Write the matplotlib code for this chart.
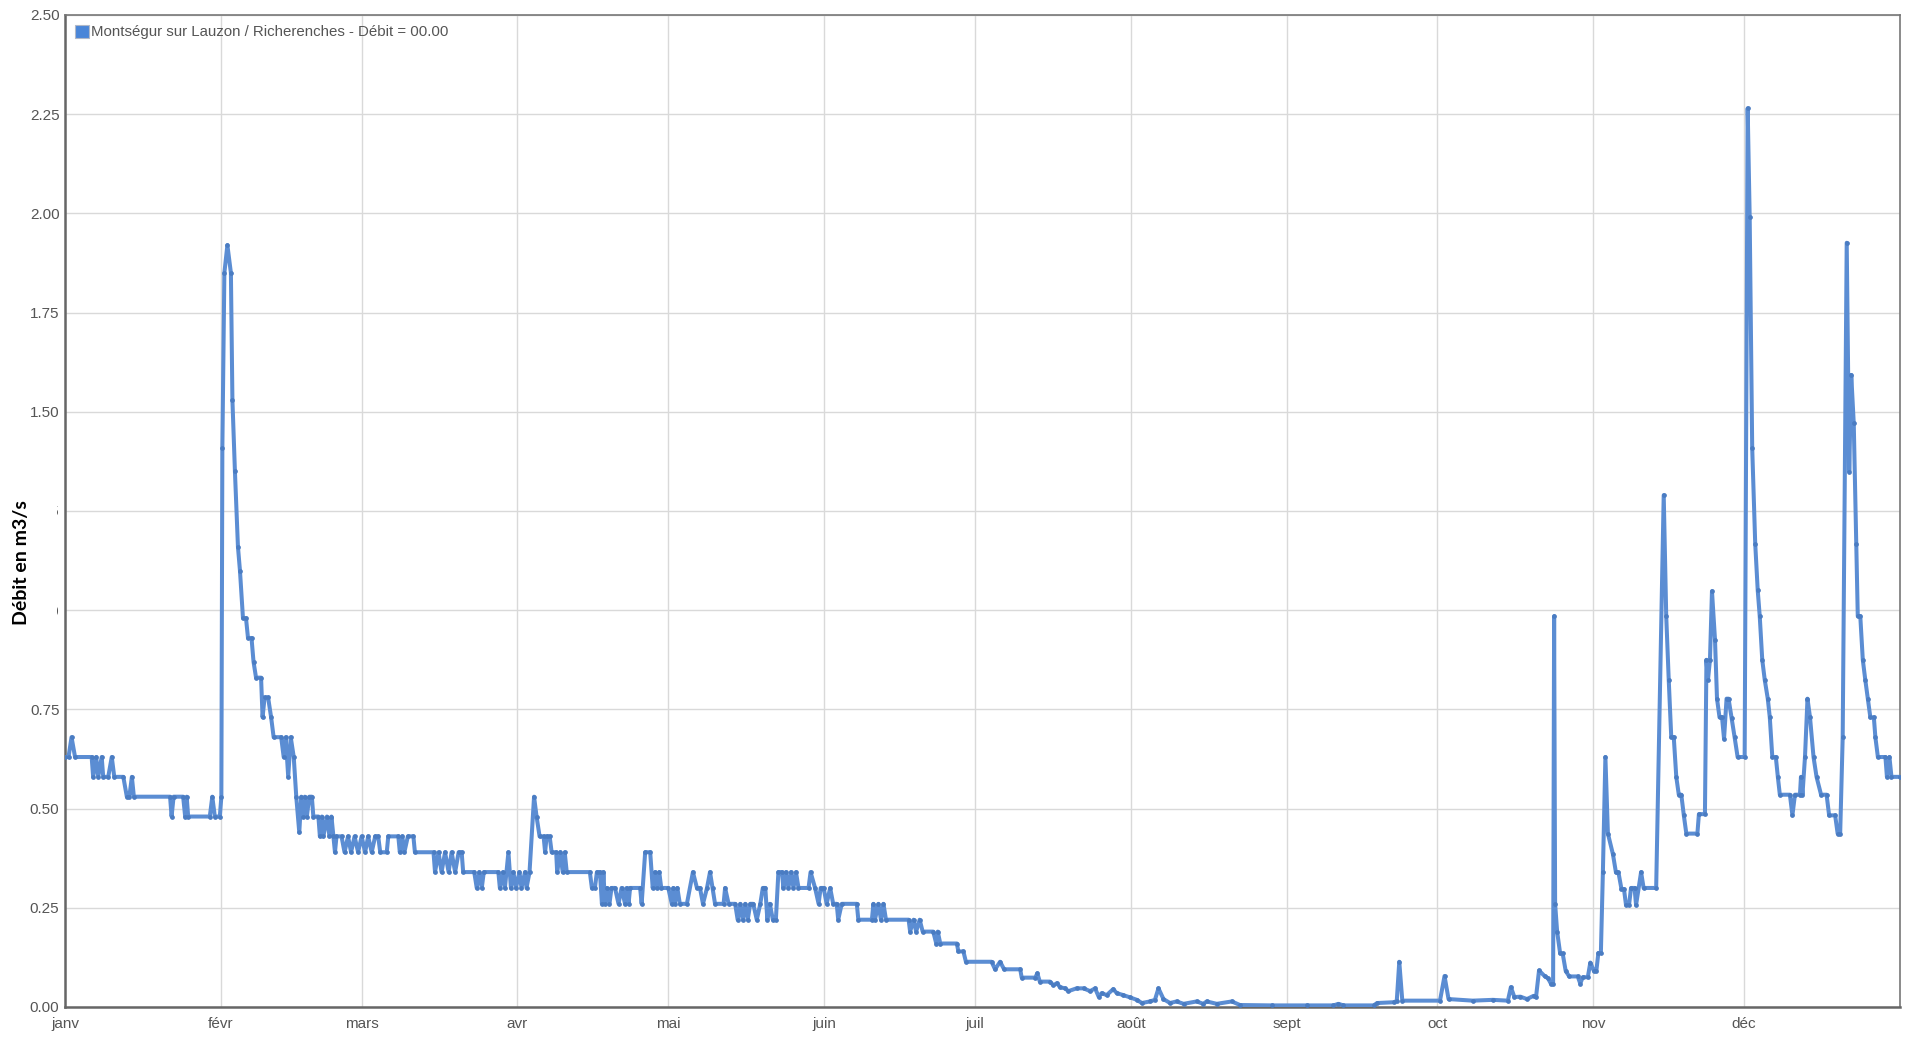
import matplotlib
matplotlib.use("Agg")
import matplotlib.pyplot as plt
from matplotlib.patches import Patch, Rectangle

# ---------------- data (day of year, flow m3/s) ----------------
days = [
    0, 0.7, 1.3, 2.0, 5.3, 5.6, 6.2, 6.6, 7.3, 7.6, 8.6, 9.3, 9.8, 11.6, 12.3, 12.8, 13.3, 13.7,
    20.9, 21.2, 21.6, 23.5, 23.9, 24.2, 24.5, 28.8, 29.3, 29.8, 30.8, 31.1,
    31.3, 31.7, 32.3, 33.0, 33.3, 33.8, 34.4, 34.8, 35.4, 36.0, 36.4, 37.1, 37.5, 38.0, 39.0, 39.3,
    39.7, 40.4, 41.0, 41.5, 43.0, 43.5, 43.9, 44.4, 44.9, 45.5, 46.0, 46.6, 47.0, 47.4, 47.7, 48.1,
    48.6, 49.1, 49.4, 50.4, 50.7, 51.1, 51.4, 52.1, 52.6, 53.0, 53.4, 53.7, 54.0, 55.0,
    55.6, 56.3, 56.9, 57.6, 58.3, 59.0, 59.7, 60.3, 61.0, 61.7, 62.3, 62.7, 64.0, 64.3, 66.3, 66.6,
    67.1, 67.5, 68.2, 69.3, 69.6, 73.3, 73.6, 74.3, 74.9, 75.6, 76.3, 76.9, 77.6, 78.3, 78.9, 79.2,
    81.4, 81.9, 82.4, 82.9, 83.3, 86.2, 86.5, 87.1, 87.5, 88.2, 88.7, 89.2, 89.7, 90.4, 90.8, 91.5,
    91.8, 92.4, 93.3, 93.8, 94.4, 95.2, 95.5, 95.8, 96.4, 96.8, 97.7, 97.9, 98.5, 99.0, 99.4, 99.8,
    104.4, 104.8, 105.4, 105.8, 106.4, 106.8, 107.1, 107.4, 107.8, 108.3, 108.7, 109.4, 110.1, 110.7,
    111.4, 111.7, 112.1, 112.4, 114.4, 114.7, 115.4, 116.4, 116.9, 117.4, 117.7, 118.2, 118.6, 120.0,
    120.7, 121.0, 121.3, 121.8, 122.3, 123.7, 124.9, 125.7, 126.3, 126.9, 127.7, 128.3, 128.8, 129.3,
    131.0, 131.3, 132.0, 133.3, 133.8, 134.3, 134.8, 135.3, 135.8, 136.3, 136.9, 137.6, 138.3, 138.8,
    139.3, 139.7, 140.2, 140.8, 141.4, 141.9, 142.6, 142.9, 143.4, 143.9, 144.4, 144.9, 145.4, 145.9,
    147.9, 148.3, 149.2, 149.9, 150.3, 150.9, 151.5, 152.2, 152.8, 153.5, 153.8, 154.5, 157.5, 157.8,
    160.5, 160.8, 161.1, 161.8, 162.3, 162.8, 163.3, 167.8, 168.1, 168.8, 169.3, 170.0, 170.6, 172.7,
    173.3, 173.6, 174.1, 177.4,
    177.7, 178.7, 179.2, 184.3, 185.0, 186.0, 186.8, 190.0, 190.3, 193.0, 193.4, 193.9, 195.9, 196.6,
    197.3, 197.9, 198.9, 199.6, 201.2, 202.6, 203.9, 204.9, 205.6, 206.2, 207.2, 208.5, 209.2, 210.5,
    211.9, 213.2, 214.2, 215.8, 216.8, 217.5, 218.5, 219.8, 221.1, 222.5, 225.1, 226.4, 227.1, 229.1,
    232.1, 233.7, 240.0, 247.0, 252.3, 253.3, 254.3, 260.3, 261.0, 264.3, 264.9, 265.4, 266.0, 273.5,
    274.4, 275.2, 280.0, 284.0, 287.0, 287.6, 288.3, 289.5, 290.8, 292.1, 292.6, 293.2, 294.3, 295.0,
    295.6, 296.0,
    296.2, 296.4, 296.8, 297.4, 297.9, 298.5, 299.2, 300.9, 301.4, 301.9, 302.9, 303.4, 304.1, 304.6,
    305.0, 305.5, 305.9, 306.4, 306.9, 307.9, 308.5, 309.0, 309.6, 310.1, 310.5, 311.1, 311.5, 312.2,
    312.5, 313.5, 314.0, 316.5, 318.0, 318.5, 319.0, 319.5, 320.0, 320.5, 321.0, 321.5, 322.0, 322.5,
    324.7, 325.0, 326.2, 326.5, 326.8, 327.2, 327.6, 328.2, 328.6, 329.1, 329.6, 330.0, 330.5, 330.9,
    331.5, 332.1, 332.7, 334.1,
    334.7, 335.1, 335.6, 336.2, 336.7, 337.1, 337.6, 338.1, 338.7, 339.1, 339.6, 340.3, 340.7, 341.1,
    343.1, 343.6, 344.1, 345.1, 345.3, 345.6, 346.1, 346.6, 347.1, 347.8, 348.4, 349.3, 350.4, 350.9,
    352.1, 352.6, 353.1, 353.6, 354.4, 354.9, 355.3, 355.8, 356.3, 356.6, 357.1, 357.6, 358.1, 358.6,
    359.1, 359.8, 360.1, 360.6, 362.1, 362.4, 362.9, 363.3, 365.0,
]

flow = [
    0.63, 0.63, 0.68, 0.63, 0.63, 0.58, 0.63, 0.58, 0.63, 0.58, 0.58, 0.63, 0.58, 0.58, 0.53, 0.53, 0.58, 0.53,
    0.53, 0.48, 0.53, 0.53, 0.48, 0.53, 0.48, 0.48, 0.53, 0.48, 0.48, 0.53,
    1.41, 1.85, 1.92, 1.85, 1.53, 1.35, 1.16, 1.10, 0.98, 0.98, 0.93, 0.93, 0.87, 0.83, 0.83, 0.73,
    0.78, 0.78, 0.73, 0.68, 0.68, 0.63, 0.68, 0.58, 0.68, 0.63, 0.53, 0.44, 0.53, 0.48, 0.53, 0.48,
    0.53, 0.53, 0.48, 0.48, 0.43, 0.48, 0.43, 0.48, 0.43, 0.48, 0.43, 0.39, 0.43, 0.43,
    0.39, 0.43, 0.39, 0.43, 0.39, 0.43, 0.39, 0.43, 0.39, 0.43, 0.43, 0.39, 0.39, 0.43, 0.43, 0.39,
    0.43, 0.39, 0.43, 0.43, 0.39, 0.39, 0.34, 0.39, 0.34, 0.39, 0.34, 0.39, 0.34, 0.39, 0.39, 0.34,
    0.34, 0.30, 0.34, 0.30, 0.34, 0.34, 0.30, 0.34, 0.30, 0.39, 0.30, 0.34, 0.30, 0.34, 0.30, 0.34,
    0.30, 0.34, 0.53, 0.48, 0.43, 0.43, 0.39, 0.43, 0.43, 0.39, 0.39, 0.34, 0.39, 0.34, 0.39, 0.34,
    0.34, 0.30, 0.30, 0.34, 0.34, 0.26, 0.34, 0.26, 0.30, 0.26, 0.30, 0.30, 0.26, 0.30,
    0.26, 0.30, 0.26, 0.30, 0.30, 0.26, 0.39, 0.39, 0.30, 0.34, 0.30, 0.34, 0.30, 0.30,
    0.26, 0.30, 0.26, 0.30, 0.26, 0.26, 0.34, 0.30, 0.30, 0.26, 0.30, 0.34, 0.30, 0.26,
    0.26, 0.30, 0.26, 0.26, 0.22, 0.26, 0.22, 0.26, 0.22, 0.26, 0.26, 0.22, 0.26, 0.30,
    0.30, 0.22, 0.26, 0.22, 0.22, 0.34, 0.34, 0.30, 0.34, 0.30, 0.34, 0.30, 0.34, 0.30,
    0.30, 0.34, 0.30, 0.26, 0.30, 0.30, 0.26, 0.30, 0.26, 0.26, 0.22, 0.26, 0.26, 0.22,
    0.22, 0.26, 0.22, 0.26, 0.22, 0.26, 0.22, 0.22, 0.19, 0.22, 0.19, 0.22, 0.19, 0.19,
    0.16, 0.19, 0.16, 0.16,
    0.14, 0.14, 0.114, 0.114, 0.095, 0.114, 0.095, 0.095, 0.074, 0.074, 0.085, 0.064, 0.064, 0.055,
    0.06, 0.05, 0.047, 0.04, 0.047, 0.047, 0.04, 0.047, 0.026, 0.035, 0.03, 0.045, 0.035, 0.03,
    0.024, 0.018, 0.01, 0.014, 0.018, 0.047, 0.02, 0.01, 0.014, 0.008, 0.014, 0.008, 0.014, 0.008,
    0.014, 0.005, 0.004, 0.004, 0.004, 0.008, 0.004, 0.004, 0.01, 0.012, 0.015, 0.114, 0.016, 0.016,
    0.078, 0.02, 0.016, 0.018, 0.016, 0.05, 0.025, 0.026, 0.02, 0.028, 0.025, 0.092, 0.078, 0.072,
    0.058, 0.058,
    0.985, 0.26, 0.19, 0.135, 0.135, 0.091, 0.077, 0.077, 0.059, 0.075, 0.075, 0.112, 0.091, 0.091,
    0.136, 0.136, 0.339, 0.63, 0.437, 0.385, 0.339, 0.339, 0.297, 0.297, 0.257, 0.257, 0.30, 0.30,
    0.257, 0.34, 0.30, 0.30, 1.29, 0.985, 0.824, 0.68, 0.68, 0.58, 0.535, 0.535, 0.483, 0.437,
    0.437, 0.486, 0.486, 0.875, 0.824, 0.875, 1.048, 0.926, 0.777, 0.73, 0.73, 0.676, 0.777, 0.777,
    0.729, 0.68, 0.63, 0.63,
    2.265, 1.99, 1.41, 1.168, 1.05, 0.985, 0.875, 0.824, 0.777, 0.73, 0.63, 0.63, 0.58, 0.535,
    0.535, 0.483, 0.535, 0.535, 0.58, 0.535, 0.63, 0.777, 0.73, 0.63, 0.58, 0.535, 0.535, 0.483,
    0.483, 0.437, 0.437, 0.68, 1.926, 1.349, 1.593, 1.471, 1.168, 0.985, 0.985, 0.875, 0.824, 0.777,
    0.73, 0.73, 0.68, 0.63, 0.63, 0.58, 0.63, 0.58, 0.58,
]

month_starts = [0, 31, 59, 90, 120, 151, 181, 212, 243, 273, 304, 334]
month_labels = ["janv", "févr", "mars", "avr", "mai", "juin", "juil", "août",
                "sept", "oct", "nov", "déc"]
y_ticks = [0.0, 0.25, 0.5, 0.75, 1.0, 1.25, 1.5, 1.75, 2.0, 2.25, 2.5]
legend_label = "Montségur sur Lauzon / Richerenches - Débit = 00.00"
y_title = "Débit en m3/s"

# ---------------- figure ----------------
W, H = 1909, 1039
fig = plt.figure(figsize=(W / 100, H / 100), dpi=100)
ax = fig.add_axes([65 / W, 1 - 1007 / H, (1900 - 65) / W, (1007 - 15) / H])

line_color = "#5b8dd3"
ax.plot(days, flow, color=line_color, lw=2.9, marker="o", ms=2.4,
        mfc="#4a7cc2", mec="#4a7cc2", solid_joinstyle="round", zorder=3)

ax.set_xlim(0, 365)
ax.set_ylim(0, 2.5)
ax.set_xticks(month_starts)
ax.set_xticklabels(month_labels)
ax.set_yticks(y_ticks)
ax.set_yticklabels([f"{v:.2f}" for v in y_ticks])
ax.grid(True, color="#d9d9d9", lw=1.0)
ax.set_axisbelow(True)
ax.tick_params(axis="both", length=0, labelsize=11, labelcolor="#555555")
ax.tick_params(axis="y", pad=4)
ax.tick_params(axis="x", pad=7)
for lbl in ax.get_xticklabels() + ax.get_yticklabels():
    lbl.set_fontfamily("Liberation Sans")

for side in ["left", "bottom"]:
    ax.spines[side].set_color("#666666")
    ax.spines[side].set_linewidth(1.8)
for side in ["top", "right"]:
    ax.spines[side].set_color("#777777")
    ax.spines[side].set_linewidth(1.2)

leg = ax.legend(handles=[Patch(facecolor="#4a86d8", edgecolor="#b0b8c8", lw=0.8,
                               label=legend_label)],
                loc="upper left", frameon=False, handlelength=0.95, handleheight=0.95,
                handletextpad=0.15, borderaxespad=0.35, borderpad=0.3,
                prop={"family": "Liberation Sans", "size": 10.8})
for t in leg.get_texts():
    t.set_color("#555555")

# white box behind the axis title (as in the reference, it masks part of the tick labels)
fig.add_artist(Rectangle((0, 1 - 650 / H), 57 / W, 180 / H, transform=fig.transFigure,
                         facecolor="white", edgecolor="none", zorder=2))
fig.text(22 / W, 1 - 563 / H, y_title, rotation=90, ha="center", va="center",
         fontsize=14, fontweight="bold", family="Lato", color="black", zorder=3)

fig.savefig("out.png", dpi=100, facecolor="white")
